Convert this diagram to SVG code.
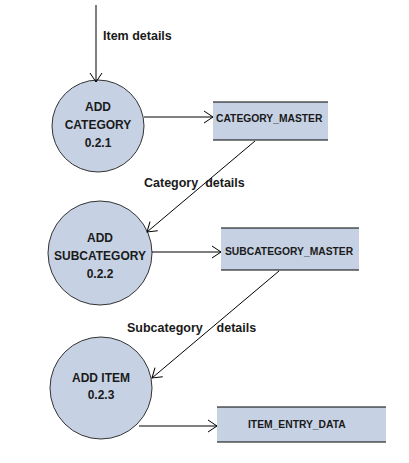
<svg xmlns="http://www.w3.org/2000/svg" width="409" height="463" viewBox="0 0 409 463">
<style>
.proc{fill:#c6d2e4;stroke:#333;stroke-width:1}
.store{fill:#c6d2e4}
.edge{stroke:#000;stroke-width:1.2}
.ln{stroke:#000;stroke-width:1;fill:none}
.t{font-family:"Liberation Sans",Arial,sans-serif;font-weight:bold;fill:#1a1a1a}
.pt{font-size:12px;text-anchor:middle}
.st{font-size:10.3px}
.lb{font-size:12.5px}
</style>
<defs>
<marker id="arr" markerUnits="userSpaceOnUse" markerWidth="12" markerHeight="14" refX="10" refY="7" orient="auto">
<path d="M1,1 L10,7 L1,13" fill="none" stroke="#000" stroke-width="1"/>
</marker>
</defs>
<rect width="409" height="463" fill="#fff"/>
<g id="n1">
<circle class="proc" cx="98" cy="126" r="46"/>
<text class="t pt" x="98" y="111">ADD</text>
<text class="t pt" x="98" y="129">CATEGORY</text>
<text class="t pt" x="98" y="147">0.2.1</text>
</g>
<g id="s1">
<rect class="store" x="213" y="102" width="115" height="38"/>
<line class="edge" x1="213" y1="102" x2="328" y2="102"/>
<line class="edge" x1="213" y1="140" x2="328" y2="140"/>
<text class="t st" x="216" y="122">CATEGORY_MASTER</text>
</g>
<g id="n2">
<circle class="proc" cx="100" cy="253" r="52"/>
<text class="t pt" x="100" y="242">ADD</text>
<text class="t pt" x="100" y="260">SUBCATEGORY</text>
<text class="t pt" x="100" y="278">0.2.2</text>
</g>
<g id="s2">
<rect class="store" x="221" y="228" width="138" height="42"/>
<line class="edge" x1="221" y1="228" x2="359" y2="228"/>
<line class="edge" x1="221" y1="270" x2="359" y2="270"/>
<text class="t st" x="225" y="255">SUBCATEGORY_MASTER</text>
</g>
<g id="n3">
<circle class="proc" cx="101" cy="388" r="51"/>
<text class="t pt" x="101" y="382">ADD ITEM</text>
<text class="t pt" x="101" y="399">0.2.3</text>
</g>
<g id="s3">
<rect class="store" x="217" y="407" width="169" height="35"/>
<line class="edge" x1="217" y1="407" x2="386" y2="407"/>
<line class="edge" x1="217" y1="442" x2="386" y2="442"/>
<text class="t st" x="248" y="428">ITEM_ENTRY_DATA</text>
</g>
<g id="connectors">
<line class="ln" x1="96" y1="5" x2="96" y2="82" marker-end="url(#arr)"/>
<line class="ln" x1="144" y1="117" x2="213" y2="117" marker-end="url(#arr)"/>
<line class="ln" x1="255" y1="141" x2="147" y2="232" marker-end="url(#arr)"/>
<line class="ln" x1="152" y1="252" x2="221" y2="252" marker-end="url(#arr)"/>
<line class="ln" x1="279" y1="271" x2="152" y2="378" marker-end="url(#arr)"/>
<line class="ln" x1="139" y1="426" x2="217" y2="426" marker-end="url(#arr)"/>
<text class="t lb" x="103" y="40">Item details</text>
<text class="t lb" x="144" y="187" xml:space="preserve">Category  details</text>
<text class="t lb" x="127" y="332" xml:space="preserve">Subcategory    details</text>
</g>
</svg>
